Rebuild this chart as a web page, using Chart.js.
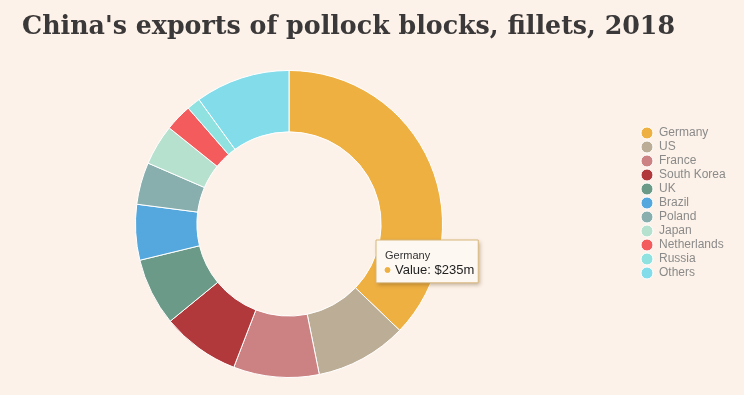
<!DOCTYPE html>
<html>
<head>
<meta charset="utf-8">
<script src="https://cdn.jsdelivr.net/npm/chart.js@4.4.0/dist/chart.umd.min.js"></script>
<style>
  html, body { margin: 0; padding: 0; background: #FDF2E9; }
  #wrap { width: 744px; height: 395px; position: relative; }
</style>
</head>
<body>
<div id="wrap"><canvas id="c" width="744" height="395"></canvas></div>
<script>
const TITLE = "China's exports of pollock blocks, fillets, 2018";
const countries = ["Germany", "US", "France", "South Korea", "UK", "Brazil", "Poland", "Japan", "Netherlands", "Russia", "Others"];
const exportValues = [235, 61, 57, 52, 45, 37, 28, 27, 18, 9, 63];
const sliceColors = ["#EFB042", "#BCAD97", "#CC8282", "#B2393B", "#6B9A88", "#54A8DD", "#88AFAE", "#B6E1CF", "#F35B5D", "#8FE2DF", "#83DCEA"];
const valuePrefix = "Value: $";
const valueSuffix = "m";

// layout constants
const CHART_AREA_RIGHT = 556;
const LEGEND_ITEM_X = 641;
const LEGEND_FIRST_Y = 127;

Chart.Tooltip.positioners.pointer = function (elements, eventPosition) {
  if (!eventPosition) return false;
  return { x: eventPosition.x, y: eventPosition.y, xAlign: 'left', yAlign: 'top' };
};

const layoutPlugin = {
  id: 'layoutTweaks',
  beforeInit(chart) {
    const lg = chart.legend;
    if (!lg) return;
    const fit = lg.fit;
    lg.fit = function () {
      fit.call(this);
      if (this.options.display) this.width = chart.width - CHART_AREA_RIGHT;
    };
  },
  afterLayout(chart) {
    const lg = chart.legend;
    if (!lg) return;
    const pad = lg.options.labels.padding;
    const dx = (LEGEND_ITEM_X - pad) - lg.left;
    const dy = (LEGEND_FIRST_Y - pad) - lg.top;
    lg.left += dx; lg.right += dx;
    lg.top += dy; lg.bottom += dy;
  },
  beforeTooltipDraw(chart, args) {
    const tt = args.tooltip;
    if (!tt || !tt.opacity) return;
    const ctx = chart.ctx;
    ctx.save();
    ctx.shadowColor = 'rgba(90,60,20,0.35)';
    ctx.shadowBlur = 4;
    ctx.shadowOffsetX = 2;
    ctx.shadowOffsetY = 2;
    ctx.fillStyle = 'rgba(253,248,242,1)';
    ctx.fillRect(tt.x, tt.y, tt.width, tt.height);
    ctx.restore();
  }
};

const chart = new Chart(document.getElementById('c'), {
  type: 'doughnut',
  data: {
    labels: countries,
    datasets: [{
      data: exportValues,
      backgroundColor: sliceColors,
      hoverBackgroundColor: sliceColors,
      borderColor: '#ffffff',
      hoverBorderColor: '#ffffff',
      borderWidth: 1,
      hoverOffset: 0
    }]
  },
  options: {
    responsive: false,
    animation: false,
    cutout: '60%',
    layout: { padding: { left: 22, right: 0, top: 0, bottom: 17 } },
    events: [],
    plugins: {
      title: {
        display: true,
        text: TITLE,
        align: 'start',
        color: '#3a3838',
        font: { family: "'DejaVu Serif', serif", size: 25.3, weight: 'bold', lineHeight: 1.2 },
        padding: { top: 12, bottom: 27.6 }
      },
      legend: {
        position: 'right',
        align: 'start',
        labels: {
          usePointStyle: true,
          pointStyle: 'circle',
          boxWidth: 12,
          boxHeight: 8.5,
          padding: 2,
          color: '#8a8a8a',
          font: { family: "'Liberation Sans', Arial, sans-serif", size: 12 }
        }
      },
      tooltip: {
        enabled: true,
        position: 'pointer',
        xAlign: 'left',
        yAlign: 'top',
        caretSize: 0,
        caretPadding: 0,
        cornerRadius: 0,
        backgroundColor: 'rgba(253,248,242,0.97)',
        borderColor: '#D8B67A',
        borderWidth: 1,
        titleColor: '#333333',
        bodyColor: '#222222',
        titleFont: { family: "'Liberation Sans', Arial, sans-serif", size: 11, weight: 'normal', lineHeight: 1.2 },
        bodyFont: { family: "'Liberation Sans', Arial, sans-serif", size: 13, lineHeight: 1.2 },
        titleMarginBottom: 0,
        padding: { top: 9, bottom: 5, left: 9, right: 4 },
        usePointStyle: true,
        boxWidth: 5,
        boxHeight: 5,
        boxPadding: 3,
        multiKeyBackground: 'rgba(0,0,0,0)',
        callbacks: {
          title: (items) => items[0].label,
          label: (item) => valuePrefix + item.raw + valueSuffix,
          labelColor: (item) => ({ borderColor: sliceColors[item.dataIndex], backgroundColor: sliceColors[item.dataIndex] }),
          labelPointStyle: () => ({ pointStyle: 'circle', rotation: 0 })
        }
      }
    }
  },
  plugins: [layoutPlugin]
});

chart.tooltip.setActiveElements([{ datasetIndex: 0, index: 0 }], { x: 376, y: 240 });
chart.update();
</script>
</body>
</html>
